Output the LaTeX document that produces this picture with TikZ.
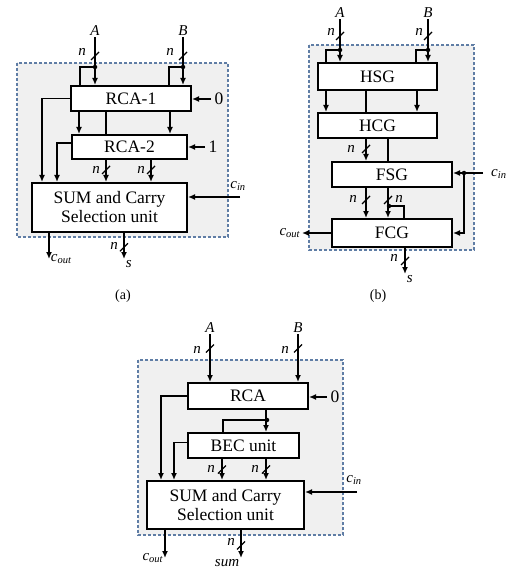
\documentclass[tikz,border=0pt]{standalone}
\usepackage{fontspec}
\setmainfont{Liberation Serif}
\usepackage{tikz}
\usetikzlibrary{arrows.meta,calc}
\definecolor{frameblue}{RGB}{95,125,165}
\newcommand{\busmark}[1]{\draw[bus] ($(#1)+(-4,4)$) -- ($(#1)+(4,-4)$);}

\begin{document}
\begin{tikzpicture}[x=1pt, y=-1pt,
  font=\fontsize{17.5}{19}\selectfont,
  blk/.style={draw, fill=white, line width=2pt, align=center, inner sep=0pt},
  frame/.style={draw=frameblue, dash pattern=on 3pt off 2pt, line width=1.4pt, fill=gray!12},
  arr/.style={-{Latex[length=7pt, width=6pt]}, line width=1.8pt},
  wire/.style={line width=1.8pt},
  bus/.style={line width=1.2pt},
  lbl/.style={font=\itshape\fontsize{15}{17}\selectfont, inner sep=1pt},
  dot/.style={circle, fill, inner sep=0pt, minimum size=4.5pt},
  captxt/.style={font=\fontsize{14}{16}\selectfont}
]
\useasboundingbox (0,0) rectangle (506,569);

% (a)
\path[frame] (17,63) rectangle (228,237);
\node[blk, minimum width=120pt, minimum height=25pt] (rca1) at (131,98.5) {RCA-1};
\node[blk, minimum width=115pt, minimum height=24pt] (rca2) at (129.5,147) {RCA-2};
\node[blk, minimum width=155pt, minimum height=49pt] (sela) at (109.5,207.5) {SUM and Carry\\Selection unit};
\node[lbl] (inA1) at (95,31) {A};
\node[lbl] (inB1) at (183,31) {B};
\node[dot] (dA1) at (95,67) {};
\node[dot] (dB1) at (183,67) {};
\draw[arr] (inA1) -- (inA1 |- rca1.north);
\draw[arr] (inB1) -- (inB1 |- rca1.north);
\draw[wire] (dA1.center) -- ++(-15,0) -- ([xshift=-15pt]dA1 |- rca1.north);
\draw[wire] (dB1.center) -- ++(-14,0) -- ([xshift=-14pt]dB1 |- rca1.north);
\busmark{95,56} \busmark{183,56}
\node[lbl] (nA1) at (82,52) {n};
\node[lbl] (nB1) at (170,52) {n};
\draw[arr] ([xshift=9pt]rca1.south west) -- ([xshift=9pt]rca1.south west |- rca2.north);
\draw[arr] ([xshift=-22pt]rca1.south east) -- ([xshift=-22pt]rca1.south east |- rca2.north);
\draw[wire] ([xshift=36pt]rca1.south west) -- ([xshift=36pt]rca1.south west |- rca2.north);
\node (zeroA) at (219,99) {0};
\node (oneA) at (213,147) {1};
\draw[arr] (zeroA.west) -- (rca1.east |- zeroA);
\draw[arr] (oneA.west) -- (rca2.east |- oneA);
\draw[arr] (rca1.west) -| ([xshift=11pt]sela.north west);
\draw[arr] ([yshift=4pt]rca2.west) -| ([xshift=26pt]sela.north west);
\draw[arr] ([xshift=35pt]rca2.south west) -- coordinate[pos=.45] (sa1) ([xshift=35pt]rca2.south west |- sela.north);
\draw[arr] ([xshift=80pt]rca2.south west) -- coordinate[pos=.45] (sa2) ([xshift=80pt]rca2.south west |- sela.north);
\busmark{sa1} \busmark{sa2}
\node[lbl] (na1) at (96,170) {n};
\node[lbl] (na2) at (141,170) {n};
\coordinate (cinA0) at (240,197);
\draw[arr] (cinA0) -- (cinA0 -| sela.east);
\node[lbl] (cinA) at (238,186) {c\textsubscript{in}};
\draw[arr] ([xshift=18pt]sela.south west) -- ++(0,26) node[lbl, right] (coutA) {c\textsubscript{out}};
\draw[arr] ([xshift=93pt]sela.south west) -- coordinate[pos=.55] (sa3) ++(0,26) node[lbl, anchor=north west] (sA) {s};
\busmark{sa3}
\node[lbl] (na3) at (114,246) {n};
\node[captxt] (capa) at (123,296) {(a)};

% (b)
\path[frame] (309,45) rectangle (474,250);
\node[blk, minimum width=119pt, minimum height=27pt] (hsg) at (377.5,76.5) {HSG};
\node[blk, minimum width=119pt, minimum height=25pt] (hcg) at (377.5,125.5) {HCG};
\node[blk, minimum width=120pt, minimum height=25pt] (fsg) at (392,174.5) {FSG};
\node[blk, minimum width=120pt, minimum height=28pt] (fcg) at (392,233) {FCG};
\node[lbl] (inA2) at (340,13) {A};
\node[lbl] (inB2) at (428,13) {B};
\node[dot] (dA2) at (340,50) {};
\node[dot] (dB2) at (428,50) {};
\draw[arr] (inA2) -- (inA2 |- hsg.north);
\draw[arr] (inB2) -- (inB2 |- hsg.north);
\draw[wire] (dA2.center) -- ++(-14,0) -- ([xshift=-14pt]dA2 |- hsg.north);
\draw[wire] (dB2.center) -- ++(-12,0) -- ([xshift=-12pt]dB2 |- hsg.north);
\busmark{340,36} \busmark{428,36}
\node[lbl] (nA2) at (331,32) {n};
\node[lbl] (nB2) at (419,32) {n};
\draw[arr] ([xshift=9pt]hsg.south west) -- ([xshift=9pt]hsg.south west |- hcg.north);
\draw[arr] ([xshift=-21pt]hsg.south east) -- ([xshift=-21pt]hsg.south east |- hcg.north);
\draw[wire] ([xshift=49pt]hsg.south west) -- ([xshift=49pt]hsg.south west |- hcg.north);
\draw[arr] ([xshift=49pt]hcg.south west) -- coordinate[pos=.45] (sb1) ([xshift=49pt]hcg.south west |- fsg.north);
\draw[wire] ([xshift=71pt]hcg.south west) -- ([xshift=71pt]hcg.south west |- fsg.north);
\busmark{sb1}
\node[lbl] (nb1) at (351,149) {n};
\draw[arr] ([xshift=35pt]fsg.south west) -- coordinate[pos=.4] (sb2) ([xshift=35pt]fsg.south west |- fcg.north);
\draw[arr] ([xshift=57pt]fsg.south west) -- coordinate[pos=.4] (sb3) ([xshift=57pt]fsg.south west |- fcg.north);
\busmark{sb2} \busmark{sb3}
\node[lbl] (nb2) at (353,199) {n};
\node[lbl] (nb3) at (399,199) {n};
\node[dot] (dF) at (389,206) {};
\draw[wire] (dF.center) -- ++(15,0) -- ([xshift=15pt]dF |- fcg.north);
\coordinate (cinB0) at (483,173);
\node[dot] (dB) at (464,173) {};
\draw[arr] (cinB0) -- (cinB0 -| fsg.east);
\draw[arr] (dB.center) |- (fcg.east);
\node[lbl, anchor=west] (cinB) at (490,174) {c\textsubscript{in}};
\draw[arr] (fcg.west) -- ++(-29,0) node[lbl, left] (coutB) {c\textsubscript{out}};
\draw[arr] ([xshift=74pt]fcg.south west) -- coordinate[pos=.5] (sb4) ++(0,26) node[lbl, anchor=north west] (sB) {s};
\busmark{sb4}
\node[lbl] (nb4) at (394,258) {n};
\node[captxt] (capb) at (378,296) {(b)};

% (c)
\path[frame] (138,360) rectangle (343,535);
\node[blk, minimum width=120pt, minimum height=26pt] (rca) at (248,396) {RCA};
\node[blk, minimum width=111pt, minimum height=25pt] (bec) at (243.5,445.5) {BEC unit};
\node[blk, minimum width=157pt, minimum height=48pt] (selc) at (225.5,505) {SUM and Carry\\Selection unit};
\node[lbl] (inA3) at (210,328) {A};
\node[lbl] (inB3) at (298,328) {B};
\draw[arr] (inA3) -- coordinate[pos=.3] (sc1) (inA3 |- rca.north);
\draw[arr] (inB3) -- coordinate[pos=.3] (sc2) (inB3 |- rca.north);
\busmark{sc1} \busmark{sc2}
\node[lbl] (nc1) at (197,350) {n};
\node[lbl] (nc2) at (285,350) {n};
\node (zeroC) at (335,397) {0};
\draw[arr] (zeroC.west) -- (rca.east |- zeroC);
\draw[arr] (rca.west) -| ([xshift=15pt]selc.north west);
\draw[arr] ([xshift=79pt]rca.south west) -- ([xshift=79pt]rca.south west |- bec.north);
\node[dot] (dC) at (267,420) {};
\draw[wire] (dC.center) -- ++(-44,0) -- ([xshift=-44pt]dC |- bec.north);
\draw[arr] ([yshift=3pt]bec.west) -| ([xshift=28pt]selc.north west);
\draw[arr] ([xshift=35pt]bec.south west) -- coordinate[pos=.5] (sc3) ([xshift=35pt]bec.south west |- selc.north);
\draw[arr] ([xshift=79pt]bec.south west) -- coordinate[pos=.5] (sc4) ([xshift=79pt]bec.south west |- selc.north);
\busmark{sc3} \busmark{sc4}
\node[lbl] (nc3) at (211,469) {n};
\node[lbl] (nc4) at (255,469) {n};
\coordinate (cinC0) at (357,492);
\draw[arr] (cinC0) -- (cinC0 -| selc.east);
\node[lbl] (cinC) at (354,480) {c\textsubscript{in}};
\draw[arr] ([xshift=19pt]selc.south west) -- ++(0,28) node[lbl, left] (coutC) {c\textsubscript{out}};
\draw[arr] ([xshift=95pt]selc.south west) -- coordinate[pos=.55] (sc5) ++(0,28) node[lbl, anchor=north east] (sumC) {sum};
\busmark{sc5}
\node[lbl] (nc5) at (231,542) {n};
\end{tikzpicture}
\end{document}
